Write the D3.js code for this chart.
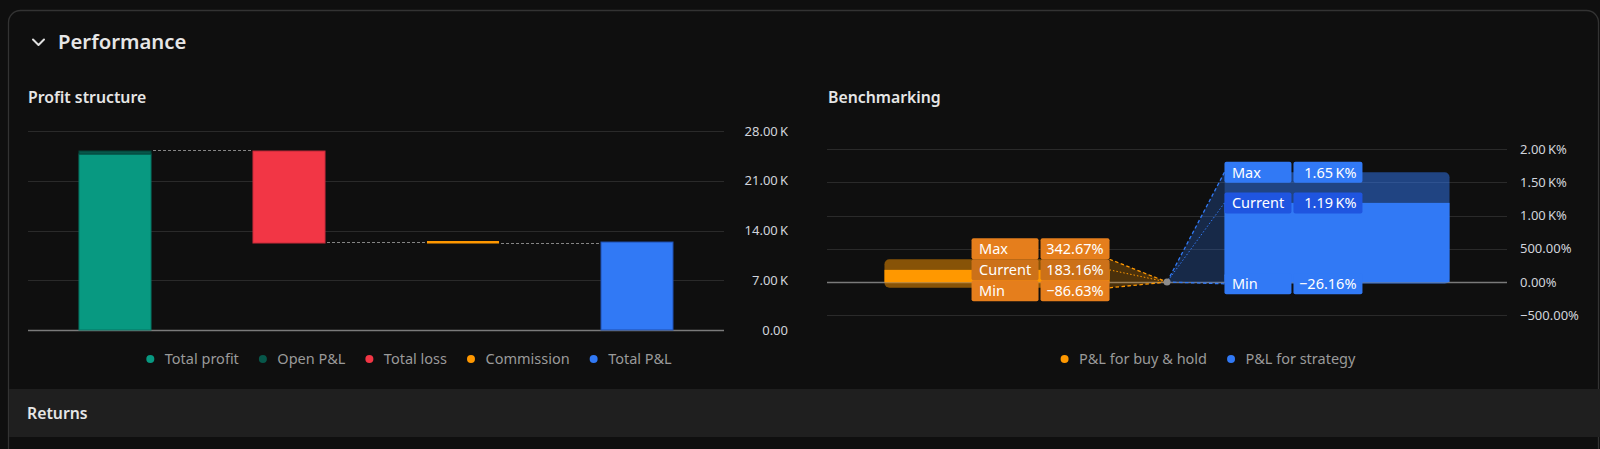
<!DOCTYPE html>
<html><head><meta charset="utf-8">
<script src="https://cdn.jsdelivr.net/npm/d3@7"></script>
<style>html,body{margin:0;padding:0;background:#0f0f0f;overflow:hidden}svg{display:block}text{font-family:"Noto Sans",sans-serif}</style>
</head><body><svg id="c" width="1600" height="449"></svg>
<script>
// ---------- Profit structure data ----------
const profitCategories = ["Total profit", "Total loss", "Commission", "Total P&L"];
const profitLegend = ["Total profit", "Open P&L", "Total loss", "Commission", "Total P&L"];
const profitColors = ["#089981", "#07574a", "#f23645", "#ff9800", "#3179f5"];
const totalProfit = 24760;
const openPnl = 420;
const totalLoss = -12940;
const commission = -130;
const totalPnl = 12380;
const profitTicks = [0, 7000, 14000, 21000, 28000];
const profitTickLabels = ["0.00", "7.00\u2009K", "14.00\u2009K", "21.00\u2009K", "28.00\u2009K"];

// ---------- Benchmarking data ----------
const benchCategories = ["P&L for buy & hold", "P&L for strategy"];
const benchColors = ["#ff9800", "#3179f5"];
const benchLabelColors = ["#e57e1c", "#3179f5"];
const benchLabelCurrentColors = ["#cc7119", "#1f55e0"];
const benchMax = [342.67, 1650];
const benchCurrent = [183.16, 1190];
const benchMin = [-86.63, -26.16];
const benchMaxLabels = ["342.67%", "1.65\u2009K%"];
const benchCurrentLabels = ["183.16%", "1.19\u2009K%"];
const benchMinLabels = ["\u221286.63%", "\u221226.16%"];
const rowNames = ["Max", "Current", "Min"];
const benchTicks = [-500, 0, 500, 1000, 1500, 2000];
const benchTickLabels = ["\u2212500.00%", "0.00%", "500.00%", "1.00\u2009K%", "1.50\u2009K%", "2.00\u2009K%"];

const svg = d3.select("#c");
svg.append("rect").attr("width", 1600).attr("height", 449).attr("fill", "#0f0f0f");

// panel frame
svg.append("rect").attr("x", 8.5).attr("y", 10.5).attr("width", 1590).attr("height", 600)
  .attr("rx", 12).attr("fill", "#0f0f0f").attr("stroke", "#333").attr("stroke-width", 1.3);

// header
svg.append("path").attr("d", "M33,39.5 L38.5,45 L44,39.5").attr("fill", "none")
  .attr("stroke", "#e0e0e0").attr("stroke-width", 2).attr("stroke-linecap", "round").attr("stroke-linejoin", "round");
svg.append("text").attr("x", 58).attr("y", 49).attr("fill", "#e6e6e6")
  .attr("font-size", 20.3).attr("font-weight", 600).text("Performance");
svg.append("text").attr("x", 28).attr("y", 103).attr("fill", "#e6e6e6")
  .attr("font-size", 15.8).attr("font-weight", 600).text("Profit structure");
svg.append("text").attr("x", 828).attr("y", 103).attr("fill", "#e6e6e6")
  .attr("font-size", 15.8).attr("font-weight", 600).text("Benchmarking");

// ================= Profit structure =================
const y1 = d3.scaleLinear().domain([0, 28000]).range([330, 131]);
const x1 = d3.scaleBand().domain(profitCategories).range([28, 724]).padding(0);
const bw1 = x1.bandwidth() * 0.414;
const bx = c => x1(c) + (x1.bandwidth() - bw1) / 2;

const g1 = svg.append("g");
g1.selectAll("line.grid").data(profitTicks).join("line")
  .attr("x1", 28).attr("x2", 724)
  .attr("y1", d => Math.round(y1(d)) + 0.5).attr("y2", d => Math.round(y1(d)) + 0.5)
  .attr("stroke", d => d === 0 ? "#7a7a7a" : "#2a2a2a").attr("stroke-width", d => d === 0 ? 1.3 : 1);

g1.selectAll("text.tick").data(profitTicks).join("text")
  .attr("x", 788).attr("y", d => y1(d)).attr("dy", "0.36em").attr("text-anchor", "end")
  .attr("fill", "#d1d4dc").attr("font-size", 13)
  .text((d, i) => profitTickLabels[i]);

const lvlTop = totalProfit + openPnl;
const lvlAfterLoss = lvlTop + totalLoss;
const lvlAfterComm = lvlAfterLoss + commission;

const bars = [
  { c: "Total profit", a: 0, b: totalProfit, fill: profitColors[0], stroke: "#067563" },
  { c: "Total profit", a: totalProfit, b: lvlTop, fill: profitColors[1], stroke: "#05463b" },
  { c: "Total loss", a: lvlTop, b: lvlAfterLoss, fill: profitColors[2], stroke: "#c92b3a" },
  { c: "Total P&L", a: 0, b: totalPnl, fill: profitColors[4], stroke: "#1f4fae" }
];
g1.selectAll("rect.bar").data(bars).join("rect")
  .attr("x", d => bx(d.c)).attr("width", bw1)
  .attr("y", d => y1(Math.max(d.a, d.b))).attr("height", d => Math.abs(y1(d.a) - y1(d.b)))
  .attr("fill", d => d.fill).attr("stroke", d => d.stroke).attr("stroke-width", 1);
// commission (tiny)
const cy0 = y1(lvlAfterLoss), cy1 = y1(lvlAfterComm);
g1.append("rect").attr("x", bx("Commission")).attr("width", bw1)
  .attr("y", Math.min(cy0, cy1) - 2).attr("height", Math.max(2.5, Math.abs(cy1 - cy0)))
  .attr("fill", profitColors[3]);

// connectors
const conns = [
  { from: "Total profit", to: "Total loss", v: lvlTop },
  { from: "Total loss", to: "Commission", v: lvlAfterLoss },
  { from: "Commission", to: "Total P&L", v: lvlAfterComm }
];
g1.selectAll("line.conn").data(conns).join("line")
  .attr("x1", d => bx(d.from) + bw1 + 2).attr("x2", d => bx(d.to) - 2)
  .attr("y1", d => Math.round(y1(d.v)) - 0.5).attr("y2", d => Math.round(y1(d.v)) - 0.5)
  .attr("stroke", "#858585").attr("stroke-width", 1).attr("stroke-dasharray", "3,2");

// legend helper
function legend(items, colors, cx, cy) {
  const fs = 14.5;
  const g = svg.append("g");
  const tmp = g.append("text").attr("font-size", fs);
  const widths = items.map(t => { tmp.text(t); return tmp.node().getComputedTextLength(); });
  tmp.remove();
  const dotGap = 14.5, itemGap = 24;
  const total = 4 + widths.reduce((s, w) => s + dotGap + w, 0) + itemGap * (items.length - 1);
  let x = cx - total / 2 + 4;
  items.forEach((t, i) => {
    g.append("circle").attr("cx", x).attr("cy", cy).attr("r", 4).attr("fill", colors[i]);
    g.append("text").attr("x", x + dotGap).attr("y", cy).attr("dy", "0.35em")
      .attr("font-size", fs).attr("fill", "#9a9a9a").text(t);
    x += dotGap + widths[i] + itemGap;
  });
}
legend(profitLegend, profitColors, 409, 359);

// ================= Benchmarking =================
const y2 = d3.scaleLinear().domain([-500, 2000]).range([315.3, 149]);
const x2 = d3.scaleBand().domain(benchCategories).range([827, 1507]).padding(0);
const bw2 = x2.bandwidth() * 0.662;
const g2 = svg.append("g");

g2.selectAll("line.grid").data(benchTicks).join("line")
  .attr("x1", 827).attr("x2", 1507)
  .attr("y1", d => Math.round(y2(d)) + 0.5).attr("y2", d => Math.round(y2(d)) + 0.5)
  .attr("stroke", d => d === 0 ? "#7a7a7a" : "#2a2a2a").attr("stroke-width", d => d === 0 ? 1.3 : 1);

g2.selectAll("text.tick").data(benchTicks).join("text")
  .attr("x", 1520).attr("y", d => y2(d)).attr("dy", "0.36em").attr("text-anchor", "start")
  .attr("fill", "#d1d4dc").attr("font-size", 13)
  .text((d, i) => benchTickLabels[i]);

const dotX = x2(benchCategories[1]);
const dotY = y2(0);
const rowH = 21, colL = 67, colR = 69, colGap = 2, labW = colL + colGap + colR;

const series = benchCategories.map((c, i) => {
  const left = x2(c) + (x2.bandwidth() - bw2) / 2;
  const labelX = i === 0 ? left + bw2 - labW : left;
  const edgeX = i === 0 ? labelX + labW : labelX;
  const curC = y2(benchCurrent[i]);
  const maxC = Math.min(y2(benchMax[i]), curC - rowH);
  const minC = Math.max(y2(benchMin[i]), curC + rowH);
  return { c, i, left, labelX, edgeX, curC, maxC, minC };
});

// triangle fills + connector lines
series.forEach(s => {
  const col = benchColors[s.i];
  const pts = [[s.edgeX, y2(benchMax[s.i])], [dotX, dotY], [s.edgeX, y2(benchMin[s.i])]];
  g2.append("path").attr("d", d3.line()(pts) + "Z").attr("fill", col).attr("fill-opacity", 0.25);
  const vals = [benchMax[s.i], benchCurrent[s.i], benchMin[s.i]];
  vals.forEach((v, k) => {
    g2.append("line").attr("x1", s.edgeX).attr("y1", y2(v)).attr("x2", dotX).attr("y2", dotY)
      .attr("stroke", col).attr("stroke-width", k === 1 ? 1 : 1.3)
      .attr("stroke-dasharray", k === 1 ? "1.5,2" : "3.5,2.5");
  });
});

// range rects + current bars
series.forEach(s => {
  const col = benchColors[s.i];
  g2.append("rect").attr("x", s.left).attr("width", bw2)
    .attr("y", y2(benchMax[s.i])).attr("height", y2(benchMin[s.i]) - y2(benchMax[s.i]))
    .attr("rx", 5).attr("fill", col).attr("fill-opacity", 0.5);
  const a = y2(Math.max(0, benchCurrent[s.i])), b = y2(Math.min(0, benchCurrent[s.i]));
  g2.append("rect").attr("x", s.left).attr("width", bw2).attr("y", a).attr("height", b - a)
    .attr("fill", col);
});

// labels
series.forEach(s => {
  const centers = [s.maxC, s.curC, s.minC];
  const valLabels = [benchMaxLabels[s.i], benchCurrentLabels[s.i], benchMinLabels[s.i]];
  centers.forEach((cy, k) => {
    const fill = k === 1 ? benchLabelCurrentColors[s.i] : benchLabelColors[s.i];
    const top = cy - rowH / 2;
    g2.append("rect").attr("x", s.labelX).attr("y", top).attr("width", colL).attr("height", rowH)
      .attr("rx", 2).attr("fill", fill);
    g2.append("rect").attr("x", s.labelX + colL + colGap).attr("y", top).attr("width", colR).attr("height", rowH)
      .attr("rx", 2).attr("fill", fill);
    g2.append("text").attr("x", s.labelX + 7.5).attr("y", cy).attr("dy", "0.36em")
      .attr("font-size", 14.5).attr("fill", "#ffffff").text(rowNames[k]);
    g2.append("text").attr("x", s.labelX + labW - 6).attr("y", cy).attr("dy", "0.36em")
      .attr("text-anchor", "end").attr("font-size", 14.5).attr("fill", "#ffffff").text(valLabels[k]);
  });
});

g2.append("circle").attr("cx", dotX).attr("cy", dotY).attr("r", 3.5).attr("fill", "#8c8c8c");

legend(benchCategories, benchColors, 1208, 359);

// ================= Returns bar =================
svg.append("rect").attr("x", 9).attr("y", 389).attr("width", 1591).attr("height", 48).attr("fill", "#1f1f1f");
svg.append("text").attr("x", 27).attr("y", 419).attr("fill", "#e6e6e6")
  .attr("font-size", 15.8).attr("font-weight", 600).text("Returns");
</script></body></html>
